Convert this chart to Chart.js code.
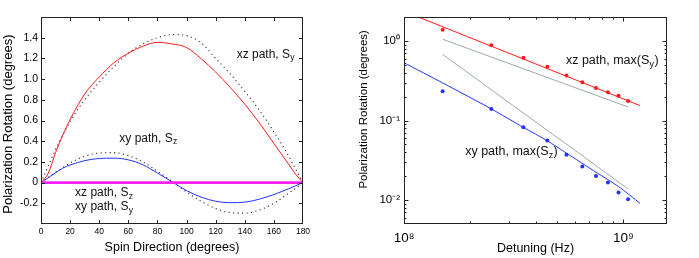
<!DOCTYPE html>
<html>
<head>
<meta charset="utf-8">
<script src="https://cdn.jsdelivr.net/npm/chart.js@4.4.1/dist/chart.umd.min.js"></script>
<style>
  html, body { margin: 0; padding: 0; background: #fff; }
  body { width: 699px; height: 258px; position: relative; overflow: hidden; }
  canvas { position: absolute; top: 0; }
  #spin { left: 0; }
  #detune { left: 345px; }
</style>
</head>
<body>
<canvas id="spin" width="345" height="258"></canvas>
<canvas id="detune" width="354" height="258"></canvas>
<script>
// left panel: rotation vs spin direction
const angles      = [0, 5, 10, 15, 20, 30, 40, 50, 60, 70, 80, 90, 100, 110, 120, 130, 140, 150, 160, 170, 175, 180];
const xzSy        = [0, 0.09, 0.29, 0.46, 0.61, 0.855, 1.02, 1.157, 1.25, 1.318, 1.355, 1.34, 1.305, 1.197, 1.068, 0.92, 0.758, 0.577, 0.378, 0.18, 0.08, 0];
const xzSyDotted  = [0, 0.16, 0.32, 0.46, 0.59, 0.80, 0.97, 1.12, 1.25, 1.34, 1.40, 1.43, 1.42, 1.35, 1.20, 1.05, 0.88, 0.70, 0.49, 0.26, 0.13, 0];
const xySz        = [0, 0.047, 0.095, 0.14, 0.17, 0.212, 0.233, 0.236, 0.22, 0.172, 0.093, 0.008, -0.077, -0.14, -0.18, -0.194, -0.189, -0.16, -0.115, -0.06, -0.03, 0];
const xySzDotted  = [0, 0.05, 0.10, 0.145, 0.19, 0.255, 0.285, 0.29, 0.26, 0.20, 0.11, 0.01, -0.09, -0.18, -0.25, -0.29, -0.295, -0.265, -0.20, -0.105, -0.055, 0];
const flatAngles  = [0, 180];
const flatValues  = [0, 0];   // xz path Sz and xy path Sy both stay at zero
const spinTicks   = [0, 20, 40, 60, 80, 100, 120, 140, 160, 180];

// right panel: max rotation vs detuning
const detuning    = [1.5e8, 2.5e8, 3.5e8, 4.5e8, 5.5e8, 6.5e8, 7.5e8, 8.5e8, 9.5e8, 1.05e9];
const maxSy       = [1.38, 0.88, 0.615, 0.474, 0.368, 0.303, 0.257, 0.227, 0.204, 0.176];
const maxSz       = [0.234, 0.140, 0.082, 0.0562, 0.037, 0.0264, 0.0201, 0.0166, 0.0124, 0.0102];
const fitSyX      = [1e8, 1.19e9];
const fitSyY      = [2.36, 0.154];
const fitSzX      = [1e8, 1.5e8, 2.5e8, 3.5e8, 4.5e8, 5.5e8, 7.5e8, 9.5e8, 1.19e9];
const fitSzY      = [0.532, 0.297, 0.140, 0.082, 0.0556, 0.0389, 0.0224, 0.0148, 0.0091];
const guide1X     = [1.5e8, 1.05e9];
const guide1Y     = [1.05, 0.148];
const guide2X     = [1.5e8, 1.05e9];
const guide2Y     = [0.677, 0.0138];

const FONT = "'Liberation Sans', Arial, Helvetica, sans-serif";
Chart.defaults.font.family = FONT;
Chart.defaults.color = '#000';

const pts = (xs, ys) => xs.map((x, i) => ({ x: x, y: ys[i] }));

const SUP = { '-': '\u207b', '0': '\u2070', '1': '\u00b9', '2': '\u00b2', '3': '\u00b3', '4': '\u2074',
              '5': '\u2075', '6': '\u2076', '7': '\u2077', '8': '\u2078', '9': '\u2079' };
const powLabel = v => {
  const e = Math.log10(v);
  if (Math.abs(e - Math.round(e)) > 1e-6) return '';
  return '10' + String(Math.round(e)).split('').map(c => SUP[c]).join('');
};

// box around the plot with inward tick marks, like the original figure
const frameTicks = {
  id: 'frameTicks',
  afterDatasetsDraw(chart) {
    const { ctx, chartArea: a, scales } = chart;
    ctx.save();
    ctx.strokeStyle = '#222';
    ctx.lineWidth = 1;
    const tickLen = (scale, v) => {
      if (scale.type !== 'logarithmic') return 4;
      const m = v / Math.pow(10, Math.floor(Math.log10(v) + 1e-9));
      if (Math.abs(m - Math.round(m)) > 1e-6) return 0;
      return Math.abs(m - 1) < 1e-6 ? 4.5 : 2.5;
    };
    ctx.beginPath();
    scales.x.ticks.forEach(t => {
      const p = Math.round(scales.x.getPixelForValue(t.value)) + 0.5;
      const len = tickLen(scales.x, t.value);
      if (!len || p < a.left + 1 || p > a.right - 1) return;
      ctx.moveTo(p, a.bottom); ctx.lineTo(p, a.bottom - len);
      ctx.moveTo(p, a.top); ctx.lineTo(p, a.top + len);
    });
    scales.y.ticks.forEach(t => {
      const p = Math.round(scales.y.getPixelForValue(t.value)) + 0.5;
      const len = tickLen(scales.y, t.value);
      if (!len || p < a.top + 1 || p > a.bottom - 1) return;
      ctx.moveTo(a.left, p); ctx.lineTo(a.left + len, p);
      ctx.moveTo(a.right, p); ctx.lineTo(a.right - len, p);
    });
    ctx.stroke();
    ctx.strokeRect(Math.round(a.left) + 0.5, Math.round(a.top) + 0.5,
                   Math.round(a.width) - 1, Math.round(a.height) - 1);
    ctx.restore();
  }
};

// text labels with a subscript, placed in data coordinates
const notes = {
  id: 'notes',
  afterDatasetsDraw(chart, args, opts) {
    const { ctx, scales } = chart;
    ctx.save();
    ctx.fillStyle = '#111';
    ctx.textBaseline = 'alphabetic';
    (opts.items || []).forEach(n => {
      let x = scales.x.getPixelForValue(n.x);
      const y = scales.y.getPixelForValue(n.y);
      ctx.font = opts.size + 'px ' + FONT;
      ctx.fillText(n.text, x, y);
      x += ctx.measureText(n.text).width;
      ctx.font = (opts.size * 0.72) + 'px ' + FONT;
      ctx.fillText(n.sub, x + 0.3, y + 2.5);
      x += ctx.measureText(n.sub).width + 0.6;
      if (n.tail) {
        ctx.font = opts.size + 'px ' + FONT;
        ctx.fillText(n.tail, x, y);
      }
    });
    ctx.restore();
  }
};

const line = (label, xs, ys, color, extra) => Object.assign({
  label: label,
  data: pts(xs, ys),
  borderColor: color,
  borderWidth: 1,
  pointRadius: 0,
  showLine: true,
  fill: false,
  cubicInterpolationMode: 'monotone'
}, extra || {});

new Chart(document.getElementById('spin'), {
  type: 'scatter',
  data: {
    datasets: [
      line('xz path Sz / xy path Sy', flatAngles, flatValues, '#ff22ff', { borderWidth: 2.6 }),
      line('xz path, Sy', angles, xzSy, '#ff1a1a'),
      line('xy path, Sz', angles, xySz, '#2233ff'),
      line('xz dotted', angles, xzSyDotted, '#222', { borderDash: [1.1, 3.4], borderWidth: 1.1 }),
      line('xy dotted', angles, xySzDotted, '#222', { borderDash: [1.1, 3.4], borderWidth: 1.1 })
    ]
  },
  options: {
    responsive: false,
    animation: false,
    devicePixelRatio: 1,
    layout: { padding: { top: 17, right: 42, left: 0, bottom: 0 } },
    plugins: {
      legend: { display: false },
      tooltip: { enabled: false },
      notes: {
        size: 12,
        items: [
          { x: 134.4, y: 1.207, text: 'xz path, S', sub: 'y' },
          { x: 53.8, y: 0.396, text: 'xy path, S', sub: 'z' },
          { x: 23.4, y: -0.134, text: 'xz path, S', sub: 'z' },
          { x: 23.4, y: -0.265, text: 'xy path, S', sub: 'y' }
        ]
      }
    },
    scales: {
      x: {
        type: 'linear',
        min: 0, max: 180,
        afterBuildTicks: s => { s.ticks = spinTicks.map(v => ({ value: v })); },
        afterFit: s => { s.height = 34; },
        grid: { display: false, drawTicks: false },
        border: { display: false },
        ticks: { padding: 3, font: { size: 8.5 }, maxRotation: 0, autoSkip: false },
        title: {
          display: true, text: 'Spin Direction (degrees)',
          font: { size: 12.5 }, padding: { top: 0, bottom: 2.5 }
        }
      },
      y: {
        type: 'linear',
        min: -0.4, max: 1.6,
        ticks: {
          stepSize: 0.2, padding: 3, font: { size: 10.5 },
          callback: v => {
            const r = Math.round(v * 10) / 10;
            if (r <= -0.4 || r >= 1.6) return '';
            return r === 0 ? '0' : r.toFixed(1);
          }
        },
        afterFit: s => { s.width = 41; },
        grid: { display: false, drawTicks: false },
        border: { display: false },
        title: {
          display: true, text: 'Polarization Rotation (degrees)\u00a0\u00a0',
          font: { size: 13 }, padding: { top: 1, bottom: 0 }
        }
      }
    }
  },
  plugins: [frameTicks, notes]
});

new Chart(document.getElementById('detune'), {
  type: 'scatter',
  data: {
    datasets: [
      { label: 'max Sy', data: pts(detuning, maxSy), backgroundColor: '#ff1a1a', borderColor: '#ff1a1a',
        pointRadius: 2, pointBorderWidth: 0, showLine: false },
      { label: 'max Sz', data: pts(detuning, maxSz), backgroundColor: '#2233ff', borderColor: '#2233ff',
        pointRadius: 2, pointBorderWidth: 0, showLine: false },
      line('fit Sy', fitSyX, fitSyY, '#ff1a1a', { cubicInterpolationMode: 'default', tension: 0 }),
      line('fit Sz', fitSzX, fitSzY, '#2233ff', { cubicInterpolationMode: 'default', tension: 0.2 }),
      line('1/f', guide1X, guide1Y, '#9aaba8', { cubicInterpolationMode: 'default', tension: 0 }),
      line('1/f^2', guide2X, guide2Y, '#9aaba8', { cubicInterpolationMode: 'default', tension: 0 })
    ]
  },
  options: {
    responsive: false,
    animation: false,
    devicePixelRatio: 1,
    layout: { padding: { top: 17, right: 32, left: 0, bottom: 0 } },
    plugins: {
      legend: { display: false },
      tooltip: { enabled: false },
      notes: {
        size: 12.5,
        items: [
          { x: 5.47e8, y: 0.513, text: 'xz path, max(S', sub: 'y', tail: ')' },
          { x: 1.9e8, y: 0.0367, text: 'xy path, max(S', sub: 'z', tail: ')' }
        ]
      }
    },
    scales: {
      x: {
        type: 'logarithmic',
        min: 1e8, max: 1.58e9,
        afterFit: s => { s.height = 34; },
        grid: { display: false, drawTicks: false },
        border: { display: false },
        ticks: { padding: 6, font: { size: 13.5 }, autoSkip: false, maxRotation: 0, callback: powLabel },
        title: {
          display: true, text: 'Detuning (Hz)',
          font: { size: 12.5 }, padding: { top: 0, bottom: 1.5 }
        }
      },
      y: {
        type: 'logarithmic',
        min: 0.005, max: 2,
        afterFit: s => { s.width = 59; },
        grid: { display: false, drawTicks: false },
        border: { display: false },
        ticks: { padding: 4, font: { size: 11.5 }, autoSkip: false, callback: powLabel },
        title: {
          display: true,
          text: '\u00a0\u00a0\u00a0\u00a0\u00a0\u00a0\u00a0Polarization Rotation (degrees)',
          font: { size: 11.5 }, padding: { top: 12, bottom: 0 }
        }
      }
    }
  },
  plugins: [frameTicks, notes]
});
</script>
</body>
</html>
